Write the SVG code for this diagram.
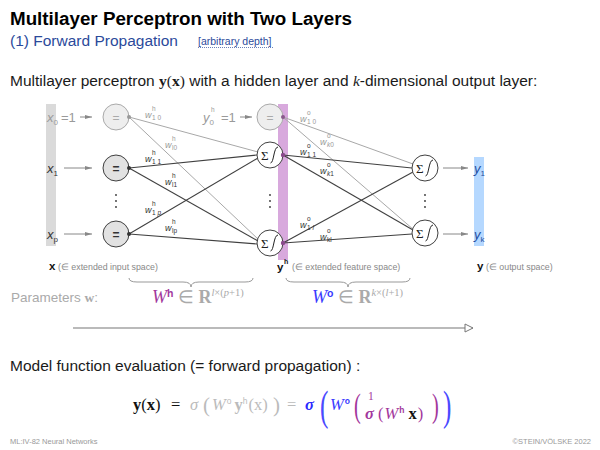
<svg xmlns="http://www.w3.org/2000/svg" width="600" height="450" viewBox="0 0 600 450">
  <style>
    .sans { font-family: "Liberation Sans", Arial, sans-serif; }
    .serif { font-family: "Liberation Serif", "Times New Roman", serif; }
    .title { font-size: 18.8px; font-weight: bold; fill: #000; }
    .sub { font-size: 15.5px; fill: #2b4a9b; }
    .body { font-size: 15.5px; fill: #1a1a1a; }
    .lbl { font-size: 13px; font-style: italic; fill: #333; }
    .lblg { font-size: 13px; font-style: italic; fill: #9a9a9a; }
    .idx { font-size: 8px; font-style: normal; }
    .w { font-size: 9px; font-style: italic; }
    .ws { font-size: 6.5px; font-style: normal; }
    .wd { fill: #333; }
    .wg { fill: #999; }
    .dark { stroke: #404040; stroke-width: 1.1; fill: none; }
    .gray { stroke: #a8a8a8; stroke-width: 1; fill: none; }
    .arr { stroke: #888; stroke-width: 1; fill: none; marker-end: url(#ah); }
    .node { stroke: #404040; stroke-width: 1; }
    .dot { fill: #333; }
    .small { font-size: 8.8px; fill: #888; }
    .foot { font-size: 7.5px; fill: #999; }
  </style>
  <defs>
    <marker id="ah" viewBox="0 0 10 10" refX="10" refY="5" markerWidth="7" markerHeight="7" orient="auto" markerUnits="userSpaceOnUse">
      <path d="M0,2 L10,5 L0,8 Z" fill="#888"/>
    </marker>
    <marker id="open" viewBox="0 0 10 10" refX="9" refY="5" markerWidth="10" markerHeight="10" orient="auto" markerUnits="userSpaceOnUse">
      <path d="M1,1 L9,5 L1,9 Z" fill="#fff" stroke="#777" stroke-width="1"/>
    </marker>
    <!-- summation + sigmoid unit -->
    <g id="sumsig">
      <circle r="13" fill="#fff" stroke="#404040" stroke-width="1"/>
      <text x="-9" y="4.5" class="serif" font-size="13" fill="#222">Σ</text>
      <path d="M0.5,8 C4,8 3.5,-8 8,-8" stroke="#222" stroke-width="1" fill="none"/>
    </g>
  </defs>

  <!-- heading -->
  <text x="10" y="25" class="sans title">Multilayer Perceptron with Two Layers</text>
  <text x="10" y="46" class="sans sub">(1) Forward Propagation</text>
  <text x="198" y="45" class="sans" font-size="10.5" fill="#2b4a9b">[arbitrary depth]</text>
  <line x1="198" y1="47.5" x2="274" y2="47.5" stroke="#2b4a9b" stroke-width="0.7" stroke-dasharray="1,1"/>

  <text x="10" y="86" class="sans body">Multilayer perceptron <tspan class="serif" font-weight="bold">y</tspan><tspan class="serif">(</tspan><tspan class="serif" font-weight="bold">x</tspan><tspan class="serif">)</tspan> with a hidden layer and <tspan class="serif" font-style="italic">k</tspan>-dimensional output layer:</text>

  <!-- layer bars -->
  <rect x="46" y="104" width="10" height="142" fill="#dadada"/>
  <rect x="278" y="104" width="10" height="156" fill="#d8a9dd"/>
  <rect x="474" y="157" width="10" height="89" fill="#b5d8ff"/>

  <!-- connectors -->
  <g id="connectors">
    <!-- input arrows -->
    <line x1="80" y1="117" x2="92" y2="117" class="arr"/>
    <line x1="64" y1="168" x2="92" y2="168" class="arr"/>
    <line x1="64" y1="234" x2="92" y2="234" class="arr"/>
    <line x1="240" y1="117" x2="252" y2="117" class="arr"/>
    <!-- input to hidden -->
    <line x1="129" y1="117" x2="258" y2="152" class="gray"/>
    <line x1="129" y1="117" x2="259" y2="240" class="gray"/>
    <line x1="129" y1="168" x2="257" y2="155" class="dark"/>
    <line x1="129" y1="168" x2="258" y2="241" class="dark"/>
    <line x1="129" y1="234" x2="258" y2="158" class="dark"/>
    <line x1="129" y1="234" x2="257" y2="244" class="dark"/>
    <!-- hidden to output -->
    <line x1="283" y1="117" x2="413" y2="164" class="gray"/>
    <line x1="283" y1="117" x2="414" y2="230" class="gray"/>
    <line x1="283" y1="155" x2="412" y2="168" class="dark"/>
    <line x1="283" y1="155" x2="413" y2="230" class="dark"/>
    <line x1="283" y1="243" x2="413" y2="172" class="dark"/>
    <line x1="283" y1="243" x2="412" y2="234" class="dark"/>
    <!-- output arrows -->
    <line x1="443" y1="168" x2="468" y2="168" class="arr"/>
    <line x1="443" y1="234" x2="468" y2="234" class="arr"/>
  </g>

  <!-- input labels -->
  <text x="47" y="122" class="sans lblg">x<tspan class="idx" dy="3">0</tspan></text>
  <text x="61" y="122" class="sans" font-size="13" fill="#9a9a9a">=1</text>
  <text x="47" y="173" class="sans lbl">x<tspan class="idx" dy="3">1</tspan></text>
  <text x="47" y="239" class="sans lbl">x<tspan class="idx" font-style="italic" dy="3">p</tspan></text>

  <!-- input nodes -->
  <g id="in0">
    <circle cx="116" cy="117" r="13" fill="#eeeeee" stroke="#aaa" stroke-width="1"/>
    <text x="116" y="121.5" class="sans" font-size="12" fill="#aaa" text-anchor="middle">=</text>
    <circle cx="129" cy="117" r="2" fill="#999"/>
  </g>
  <g id="in1">
    <circle cx="116" cy="168" r="13" fill="#e2e2e2" class="node"/>
    <text x="116" y="172.5" class="sans" font-size="12" font-weight="bold" fill="#333" text-anchor="middle">=</text>
    <circle cx="129" cy="168" r="2" class="dot"/>
  </g>
  <g id="inp">
    <circle cx="116" cy="234" r="13" fill="#e2e2e2" class="node"/>
    <text x="116" y="238.5" class="sans" font-size="12" font-weight="bold" fill="#333" text-anchor="middle">=</text>
    <circle cx="129" cy="234" r="2" class="dot"/>
  </g>
  <g id="in-dots" fill="#333">
    <circle cx="116" cy="195" r="0.9"/><circle cx="116" cy="201" r="0.9"/><circle cx="116" cy="207" r="0.9"/>
  </g>

  <!-- hidden layer -->
  <text x="203" y="122" class="sans lblg">y<tspan class="idx" dy="3">0</tspan></text>
  <text x="211" y="112" class="sans ws" fill="#9a9a9a">h</text>
  <text x="221" y="122" class="sans" font-size="13" fill="#9a9a9a">=1</text>
  <g id="hid0">
    <circle cx="270" cy="117" r="13" fill="#eeeeee" stroke="#aaa" stroke-width="1"/>
    <text x="270" y="121.5" class="sans" font-size="12" fill="#aaa" text-anchor="middle">=</text>
    <circle cx="283" cy="117" r="2" fill="#8a5a8c"/>
  </g>
  <g id="hid1">
    <use href="#sumsig" x="270" y="155"/>
    <circle cx="283" cy="155" r="2.2" fill="#8a4a8c"/>
  </g>
  <g id="hidl">
    <use href="#sumsig" x="270" y="243"/>
    <circle cx="283" cy="243" r="2.2" fill="#8a4a8c"/>
  </g>
  <g id="hid-dots" fill="#333">
    <circle cx="270" cy="195" r="0.9"/><circle cx="270" cy="201" r="0.9"/><circle cx="270" cy="207" r="0.9"/>
  </g>

  <!-- output layer -->
  <g id="out1"><use href="#sumsig" x="425" y="168"/></g>
  <g id="outk"><use href="#sumsig" x="425" y="233"/></g>
  <g id="out-dots" fill="#333">
    <circle cx="425" cy="195" r="0.9"/><circle cx="425" cy="201" r="0.9"/><circle cx="425" cy="207" r="0.9"/>
  </g>
  <text x="474" y="173" class="sans" font-size="13" font-style="italic" fill="#1f4f9f">y<tspan class="idx" dy="3">1</tspan></text>
  <text x="474" y="239" class="sans" font-size="13" font-style="italic" fill="#1f4f9f">y<tspan class="idx" font-style="italic" dy="3">k</tspan></text>

  <!-- hidden-layer weights -->
  <g class="sans">
    <g class="wg"><text x="145" y="118" class="w">w</text><text x="152" y="111" class="ws">h</text><text x="152" y="120" class="ws">1 0</text></g>
    <g class="wg"><text x="165" y="148" class="w">w</text><text x="172" y="141" class="ws">h</text><text x="172" y="150" class="ws" font-style="italic">l0</text></g>
    <g class="wd"><text x="145" y="162" class="w">w</text><text x="152" y="155" class="ws">h</text><text x="152" y="164" class="ws">1 1</text></g>
    <g class="wd"><text x="165" y="185" class="w">w</text><text x="172" y="178" class="ws">h</text><text x="172" y="187" class="ws" font-style="italic">l1</text></g>
    <g class="wd"><text x="145" y="213" class="w">w</text><text x="152" y="206" class="ws">h</text><text x="152" y="215" class="ws">1 <tspan font-style="italic">p</tspan></text></g>
    <g class="wd"><text x="165" y="231" class="w">w</text><text x="172" y="224" class="ws">h</text><text x="172" y="233" class="ws" font-style="italic">lp</text></g>
  </g>
  <!-- output-layer weights -->
  <g class="sans">
    <g class="wg"><text x="300" y="122" class="w">w</text><text x="307" y="115" class="ws">o</text><text x="307" y="124" class="ws">1 0</text></g>
    <g class="wg"><text x="320" y="145" class="w">w</text><text x="327" y="138" class="ws">o</text><text x="327" y="147" class="ws"><tspan font-style="italic">k</tspan>0</text></g>
    <g class="wd"><text x="300" y="155" class="w">w</text><text x="307" y="148" class="ws">o</text><text x="307" y="157" class="ws">1 1</text></g>
    <g class="wd"><text x="320" y="174" class="w">w</text><text x="327" y="167" class="ws">o</text><text x="327" y="176" class="ws"><tspan font-style="italic">k</tspan>1</text></g>
    <g class="wd"><text x="300" y="228" class="w">w</text><text x="307" y="221" class="ws">o</text><text x="307" y="230" class="ws">1 <tspan font-style="italic">l</tspan></text></g>
    <g class="wd"><text x="320" y="240" class="w">w</text><text x="327" y="233" class="ws">o</text><text x="327" y="242" class="ws" font-style="italic">kl</text></g>
  </g>

  <!-- space labels -->
  <text x="49" y="270" class="sans" font-size="11.5" font-weight="bold" fill="#111">x</text>
  <text x="58" y="270" class="sans small">(∈ extended input space)</text>
  <text x="277" y="271" class="sans" font-size="11.5" font-weight="bold" fill="#111">y</text>
  <text x="284" y="264" class="sans" font-size="7" font-weight="bold" fill="#111">h</text>
  <text x="292" y="270" class="sans small">(∈ extended feature space)</text>
  <text x="477" y="270" class="sans" font-size="11.5" font-weight="bold" fill="#111">y</text>
  <text x="486" y="270" class="sans small">(∈ output space)</text>

  <!-- braces -->
  <path d="M129,278 q0,4 8,4 H183 q8,0 8,5 q0,-5 8,-5 H245 q8,0 8,-4" stroke="#999" stroke-width="1" fill="none"/>
  <path d="M286,278 q0,4 8,4 H340 q8,0 8,5 q0,-5 8,-5 H402 q8,0 8,-4" stroke="#999" stroke-width="1" fill="none"/>

  <!-- parameters -->
  <text x="11" y="302" class="sans" font-size="13.5" fill="#aaa">Parameters <tspan class="serif" font-weight="bold">w</tspan>:</text>
  <text x="152" y="303" class="serif" font-size="18" fill="#aaa"><tspan font-style="italic" fill="#a2379c">W</tspan><tspan class="sans" font-size="10.5" font-weight="bold" fill="#a2379c" dy="-6">h</tspan><tspan dy="6"> ∈ </tspan><tspan font-weight="bold">R</tspan><tspan font-size="10.5" dy="-7"><tspan font-style="italic">l</tspan>×(<tspan font-style="italic">p</tspan>+1)</tspan></text>
  <text x="312" y="303" class="serif" font-size="18" fill="#aaa"><tspan font-style="italic" fill="#3a3aff">W</tspan><tspan class="sans" font-size="10.5" font-weight="bold" fill="#3a3aff" dy="-6">o</tspan><tspan dy="6"> ∈ </tspan><tspan font-weight="bold">R</tspan><tspan font-size="10.5" dy="-7"><tspan font-style="italic">k</tspan>×(<tspan font-style="italic">l</tspan>+1)</tspan></text>

  <!-- direction of propagation -->
  <line x1="73" y1="328" x2="473" y2="328" stroke="#777" stroke-width="1.1" marker-end="url(#open)"/>

  <!-- model function -->
  <text x="10" y="371" class="sans body">Model function evaluation (= forward propagation) :</text>

  <g id="formula" class="serif" font-size="16.5">
    <text x="133" y="410" fill="#111"><tspan font-weight="bold">y</tspan>(<tspan font-weight="bold">x</tspan>)</text>
    <text x="171" y="410" fill="#111">=</text>
    <text x="190" y="410" fill="#bbb" font-style="italic">σ</text>
    <text x="203" y="412" fill="#bbb" font-size="21">(</text>
    <text x="212" y="410" fill="#bbb"><tspan font-style="italic">W</tspan><tspan class="sans" font-size="8.5" dx="1" dy="-6">o</tspan><tspan dx="3" dy="6" font-weight="bold">y</tspan><tspan class="sans" font-size="8.5" dy="-6">h</tspan><tspan dx="1" dy="6">(x)</tspan></text>
    <text x="273" y="412" fill="#bbb" font-size="21">)</text>
    <text x="287" y="410" fill="#bbb">=</text>
    <text x="305" y="410" fill="#2a2aff" font-weight="bold" font-style="italic">σ</text>
    <text x="320" y="420" fill="#4a4aff" font-size="42" transform="translate(320,420) scale(0.6,1) translate(-320,-420)">(</text>
    <text x="330" y="410" fill="#3a3aff"><tspan font-style="italic">W</tspan><tspan class="sans" font-size="8.5" font-weight="bold" dx="1" dy="-6">o</tspan></text>
    <text x="354" y="417" fill="#a2379c" font-size="34" transform="translate(354,417) scale(0.6,1) translate(-354,-417)">(</text>
    <text x="368" y="400" fill="#a2379c" font-size="11.5">1</text>
    <text x="365" y="419" fill="#a2379c" font-weight="bold" font-style="italic">σ</text>
    <text x="378" y="419" fill="#a2379c">(<tspan font-style="italic" dx="1">W</tspan><tspan class="sans" font-size="8.5" font-weight="bold" dx="1" dy="-6">h</tspan><tspan dx="4" dy="6" font-weight="bold" fill="#111">x</tspan><tspan dx="1">)</tspan></text>
    <text x="432" y="417" fill="#a2379c" font-size="34" transform="translate(432,417) scale(0.6,1) translate(-432,-417)">)</text>
    <text x="443" y="420" fill="#4a4aff" font-size="42" transform="translate(443,420) scale(0.6,1) translate(-443,-420)">)</text>
  </g>

  <!-- footer -->
  <text x="10" y="444" class="sans foot">ML:IV-82    Neural Networks</text>
  <text x="591" y="444" class="sans foot" text-anchor="end">©STEIN/VÖLSKE 2022</text>
</svg>
